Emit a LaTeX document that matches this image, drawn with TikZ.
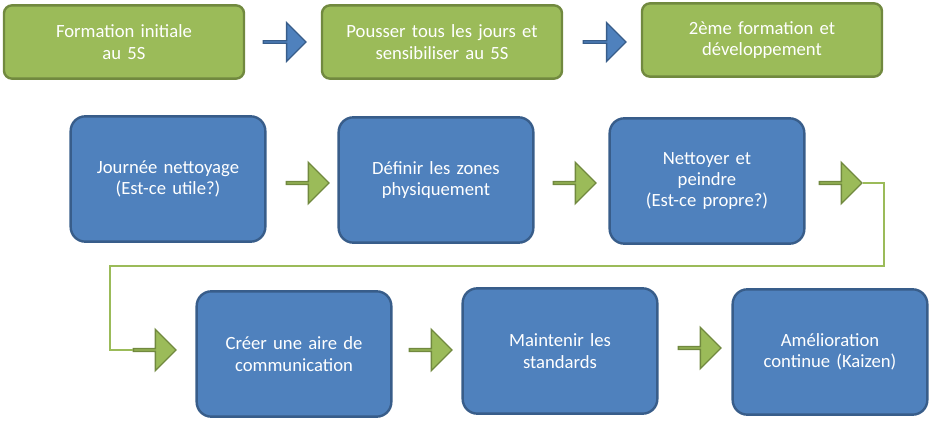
\documentclass[tikz,border=0pt]{standalone}
\usepackage{fontspec}
\setmainfont{Carlito}
\usetikzlibrary{shapes.arrows}
\definecolor{blue_fill}{HTML}{4F81BD}
\definecolor{blue_line}{HTML}{385D8A}
\definecolor{green_fill}{HTML}{9BBB59}
\definecolor{green_line}{HTML}{71893F}
\tikzset{
    green_box/.style = {draw = green_line, line width = 1.8pt, fill = green_fill, rounded corners = 6pt,
        minimum width = 180pt, minimum height = 55pt, text width = 170pt, align = center,
        text = white, font = \fontsize{14}{16}\selectfont},
    blue_box/.style = {draw = blue_line, line width = 1.8pt, fill = blue_fill, rounded corners = 11pt,
        minimum width = 146pt, minimum height = 94pt, text width = 130pt, align = center,
        text = white, font = \fontsize{14}{16}\selectfont},
    blue_arrow/.style = {single arrow, draw = blue_line, line width = 1pt, fill = blue_fill,
        minimum height = 32pt, minimum width = 29pt, single arrow head extend = 7pt, inner sep = 0pt},
    green_arrow/.style = {single arrow, draw = green_line, line width = 1pt, fill = green_fill,
        minimum height = 32pt, minimum width = 31pt, single arrow head extend = 7pt, inner sep = 0pt}
}
\begin{document}
\begin{tikzpicture}[x = 0.75pt, y = -0.75pt]
    \useasboundingbox (0,0) rectangle (932,423);
    % top row
    \node[green_box] (form_a) at (124,42) {Formation initiale\\au 5S};
    \node[green_box] (form_b) at (442,42) {Pousser tous les jours et\\sensibiliser au 5S};
    \node[green_box] (form_c) at (762,40) {2ème formation et\\développement};
    \node[blue_arrow] (arr_a) at (284,42) {};
    \node[blue_arrow] (arr_b) at (604,42) {};
    % middle row
    \node[blue_box] (step_a) at (168,179) {Journée nettoyage\\(Est-ce utile?)};
    \node[blue_box] (step_b) at (436,180) {Définir les zones\\physiquement};
    \node[blue_box] (step_c) at (707,181) {Nettoyer et\\peindre\\(Est-ce propre?)};
    \node[green_arrow] (arr_c) at (307,183) {};
    \node[green_arrow] (arr_d) at (574,183) {};
    \node[green_arrow] (arr_e) at (840,183) {};
    % bottom row
    \node[blue_box] (step_d) at (294,354) {Créer une aire de\\communication};
    \node[blue_box] (step_e) at (560,351) {Maintenir les\\standards};
    \node[blue_box] (step_f) at (830,352) {Amélioration\\continue (Kaizen)};
    \node[green_arrow] (arr_f) at (154,350) {};
    \node[green_arrow] (arr_g) at (430,350) {};
    \node[green_arrow] (arr_h) at (699,348) {};
    % link between rows
    \draw[green_fill, line width = 1pt] (arr_e.tip) -| (884,266) -| (110,350) -- (arr_f.tail);
\end{tikzpicture}
\end{document}
